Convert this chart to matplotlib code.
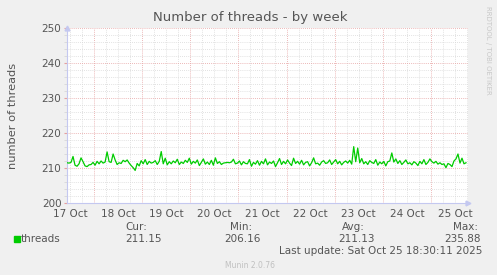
import matplotlib
matplotlib.use("Agg")
import matplotlib.pyplot as plt
import matplotlib.dates as mdates
from datetime import datetime, timedelta

# hourly samples of the thread count
threads = [
    211.5, 211.4, 211.6, 213.3, 210.8, 210.5, 211.2, 212.9, 211.8, 210.6,
    210.4, 210.9, 211.0, 211.6, 210.8, 211.9, 211.2, 212.0, 211.4, 211.7,
    214.6, 211.8, 211.6, 214.0, 212.3, 211.0, 211.5, 211.3, 212.2, 211.8,
    212.3, 211.4, 210.7, 210.1, 209.3, 211.3, 210.6, 212.1, 211.2, 212.4,
    211.0, 211.9, 211.4, 211.6, 212.1, 211.0, 211.9, 214.7, 211.2, 212.8,
    210.9, 211.8, 211.2, 212.0, 211.5, 212.5, 211.0, 211.7, 211.3, 212.2,
    211.6, 212.8, 211.1, 211.9, 211.4, 212.3, 210.7, 211.6, 212.6, 211.1,
    211.7, 211.0, 212.2, 210.8, 212.9, 211.3, 211.8, 211.0, 211.4, 211.5,
    211.6, 211.5, 211.7, 212.5, 211.2, 211.4, 212.0, 210.9, 211.8, 211.3,
    211.2, 212.4, 210.5, 211.6, 211.1, 212.1, 210.8, 211.9, 211.2, 212.6,
    210.9, 211.7, 211.3, 212.0, 210.4, 211.5, 212.7, 211.0, 211.9, 211.2,
    212.3, 211.4, 210.7, 212.8, 211.3, 211.9, 211.1, 212.2, 210.9, 211.6,
    211.8, 210.6, 211.5, 212.9, 211.2, 211.4, 210.8, 211.7, 212.1, 211.3,
    211.5, 212.3, 211.0, 211.7, 212.4, 211.2, 211.9, 210.9, 211.6, 212.0,
    211.4, 212.2, 211.1, 216.1, 211.8, 215.7, 211.5, 212.7, 211.2, 211.8,
    211.0, 212.1, 211.6, 211.3, 212.4, 210.8, 211.7, 211.2, 211.9, 210.6,
    211.8, 212.0, 214.3, 211.7, 212.6, 211.3, 212.1, 211.0, 211.6, 212.3,
    211.2, 211.5, 210.9, 211.8, 211.4, 210.7, 211.9, 211.2, 212.4, 211.0,
    211.6, 212.6, 211.8, 211.4, 211.9, 211.1, 211.5, 211.0, 211.2, 210.1,
    211.3, 211.0, 210.4, 212.0, 212.6, 214.0, 211.4, 212.8, 211.2, 211.5,
]
start = datetime(2025, 10, 17, 10, 30)
end = datetime(2025, 10, 25, 18, 30)
times = [start + timedelta(hours=i) for i in range(len(threads))]

stats_labels = ["Cur:", "Min:", "Avg:", "Max:"]
stats_values = ["211.15", "206.16", "211.13", "235.88"]
last_update = "Last update: Sat Oct 25 18:30:11 2025"

txt = "#555555"
axis_col = "#c4c8f0"
major_col = "#e6a0a0"
minor_col = "#d8d8d8"

fig = plt.figure(figsize=(4.97, 2.75), dpi=100, facecolor="#f0f0f0")
ax = fig.add_axes([67 / 497, 72 / 275, 401 / 497, 175 / 275])
ax.set_facecolor("white")

ax.set_xlim(start, end)
ax.set_ylim(200, 250)

# vertical grid: every 6 hours grey, midnight red
t = datetime(2025, 10, 17, 12)
while t < end:
    if t > start:
        ax.axvline(t, color=major_col if t.hour == 0 else minor_col,
                   linestyle=(0, (1, 1.5)), linewidth=0.6, zorder=1)
    t += timedelta(hours=6)

ax.set_yticks(range(200, 251, 10))
ax.set_yticks(range(200, 251, 2), minor=True)
ax.grid(True, axis="y", which="minor", color=minor_col, linestyle=(0, (1, 1.5)), linewidth=0.6, zorder=1)
ax.grid(True, axis="y", which="major", color=major_col, linestyle=(0, (1, 1.5)), linewidth=0.6, zorder=1)

# day labels centred on noon
ax.xaxis.set_major_locator(mdates.HourLocator(byhour=[12]))
ax.xaxis.set_major_formatter(mdates.DateFormatter("%d %b"))
ax.tick_params(axis="x", length=0, pad=4, labelsize=7.5, colors=txt)
ax.tick_params(axis="y", which="major", length=2, color=major_col, labelsize=7.5, labelcolor=txt, pad=2)
ax.tick_params(axis="y", which="minor", length=2, color=minor_col)

for s in ["top", "right"]:
    ax.spines[s].set_visible(False)
for s in ["left", "bottom"]:
    ax.spines[s].set_color(axis_col)
    ax.spines[s].set_linewidth(0.8)
ax.plot([0], [1], marker="^", color=axis_col, markersize=3.5, transform=ax.transAxes, clip_on=False)
ax.plot([1], [0], marker=">", color=axis_col, markersize=3.5, transform=ax.transAxes, clip_on=False)

ax.plot(times, threads, color="#00cc00", linewidth=0.9, zorder=3)

ax.set_ylabel("number of threads", fontsize=8.2, color=txt)
ax.yaxis.set_label_coords(-0.122, 0.5)
fig.text(0.503, 0.935, "Number of threads - by week", ha="center", va="center", fontsize=9.5, color=txt)
fig.text(0.982, 0.98, "RRDTOOL / TOBI OETIKER", rotation=-90, ha="center", va="top", fontsize=5, color="#c8c8c8")

# legend and statistics
fig.patches.append(plt.Rectangle((14 / 497, 1 - 242 / 275), 6 / 497, 6 / 275,
                                 transform=fig.transFigure, color="#00cc00"))
fig.text(21 / 497, 1 - 239 / 275, "threads", ha="left", va="center", fontsize=7.5, color=txt)
right_edges = [147, 252, 365, 478]
value_edges = [162, 261, 375, 481]
for lab, val, rx, vx in zip(stats_labels, stats_values, right_edges, value_edges):
    fig.text(rx / 497, 1 - 227 / 275, lab, ha="right", va="center", fontsize=7.5, color=txt)
    fig.text(vx / 497, 1 - 239 / 275, val, ha="right", va="center", fontsize=7.5, color=txt)
fig.text(482 / 497, 1 - 251 / 275, last_update, ha="right", va="center", fontsize=7.5, color=txt)
fig.text(0.503, 1 - 265 / 275, "Munin 2.0.76", ha="center", va="center", fontsize=5.5, color="#c0c0c0")

fig.savefig("out.png", dpi=100, facecolor=fig.get_facecolor())
